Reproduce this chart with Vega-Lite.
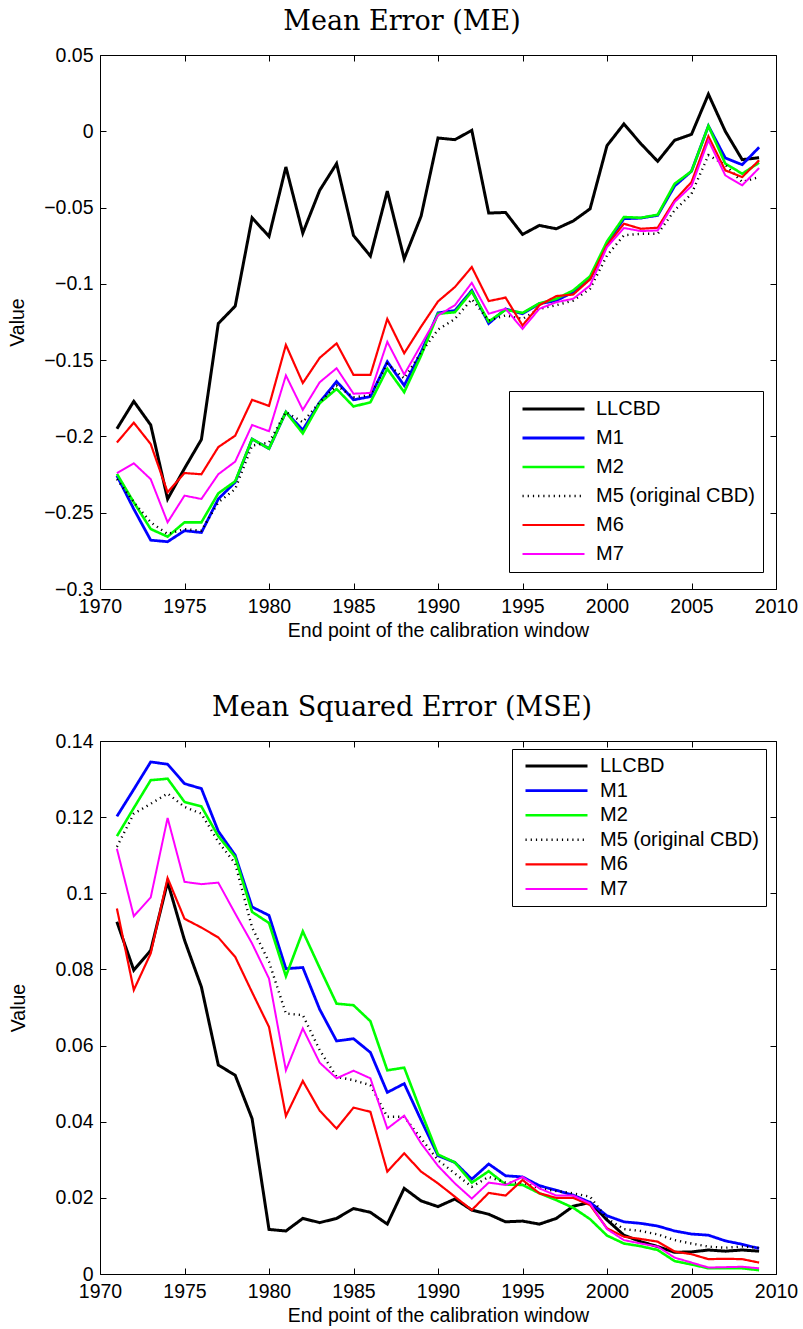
{
  "$schema": "https://vega.github.io/schema/vega-lite/v6.json",
  "background": "white",
  "padding": {"left": 7, "top": 7, "right": 0, "bottom": 0},
  "bounds": "flush",
  "spacing": 152,
  "config": {
    "view": {"stroke": "black", "strokeWidth": 1},
    "axis": {
      "domain": false, "offset": -6, "tickColor": "black", "tickWidth": 1, "tickSize": 6,
      "labelColor": "black", "titleColor": "black", "labelFont": "Liberation Sans", "titleFont": "Liberation Sans",
      "labelFontSize": 19.5, "titleFontSize": 19.5, "titleFontWeight": "normal", "grid": false,
      "labelFlush": false, "labelOverlap": false
    },
    "axisX": {"labelPadding": 8},
    "axisY": {"labelPadding": 7},
    "title": {"font": "DejaVu Serif", "fontSize": 27, "fontWeight": "normal", "color": "black", "frame": "group", "anchor": "middle", "baseline": "alphabetic", "offset": 9, "dx": -36},
    "legend": {"title": null, "orient": "none", "labelFont": "Liberation Sans", "labelFontSize": 20, "labelColor": "black", "labelLimit": 400, "symbolType": "stroke", "symbolSize": 3844, "clipHeight": 20, "strokeColor": "black", "fillColor": "white", "symbolOpacity": 1}
  },
  "datasets": {
    "me": [
      {"year":1971,"LLCBD":-0.195,"M1":-0.2257,"M2":-0.2245,"M5 (original CBD)":-0.228,"M6":-0.204,"M7":-0.224},
      {"year":1972,"LLCBD":-0.177,"M1":-0.2476,"M2":-0.2432,"M5 (original CBD)":-0.243,"M6":-0.191,"M7":-0.2176},
      {"year":1973,"LLCBD":-0.1925,"M1":-0.268,"M2":-0.2607,"M5 (original CBD)":-0.2563,"M6":-0.205,"M7":-0.228},
      {"year":1974,"LLCBD":-0.241,"M1":-0.269,"M2":-0.2657,"M5 (original CBD)":-0.264,"M6":-0.2366,"M7":-0.2563},
      {"year":1975,"LLCBD":-0.221,"M1":-0.2618,"M2":-0.2563,"M5 (original CBD)":-0.2607,"M6":-0.224,"M7":-0.2388},
      {"year":1976,"LLCBD":-0.202,"M1":-0.263,"M2":-0.2563,"M5 (original CBD)":-0.2618,"M6":-0.2248,"M7":-0.241},
      {"year":1977,"LLCBD":-0.126,"M1":-0.241,"M2":-0.2373,"M5 (original CBD)":-0.2432,"M6":-0.207,"M7":-0.2248},
      {"year":1978,"LLCBD":-0.1146,"M1":-0.23,"M2":-0.2294,"M5 (original CBD)":-0.2345,"M6":-0.1995,"M7":-0.2165},
      {"year":1979,"LLCBD":-0.0567,"M1":-0.2017,"M2":-0.2017,"M5 (original CBD)":-0.206,"M6":-0.176,"M7":-0.1925},
      {"year":1980,"LLCBD":-0.0689,"M1":-0.208,"M2":-0.208,"M5 (original CBD)":-0.204,"M6":-0.18,"M7":-0.1966},
      {"year":1981,"LLCBD":-0.0234,"M1":-0.184,"M2":-0.184,"M5 (original CBD)":-0.184,"M6":-0.14,"M7":-0.16},
      {"year":1982,"LLCBD":-0.0667,"M1":-0.1958,"M2":-0.198,"M5 (original CBD)":-0.1907,"M6":-0.165,"M7":-0.1826},
      {"year":1983,"LLCBD":-0.0387,"M1":-0.1776,"M2":-0.1782,"M5 (original CBD)":-0.1776,"M6":-0.1485,"M7":-0.1645},
      {"year":1984,"LLCBD":-0.0212,"M1":-0.164,"M2":-0.1689,"M5 (original CBD)":-0.1666,"M6":-0.139,"M7":-0.1553},
      {"year":1985,"LLCBD":-0.0683,"M1":-0.176,"M2":-0.1804,"M5 (original CBD)":-0.1743,"M6":-0.1597,"M7":-0.172},
      {"year":1986,"LLCBD":-0.0818,"M1":-0.1739,"M2":-0.1776,"M5 (original CBD)":-0.173,"M6":-0.1597,"M7":-0.1715},
      {"year":1987,"LLCBD":-0.0392,"M1":-0.151,"M2":-0.1557,"M5 (original CBD)":-0.1524,"M6":-0.123,"M7":-0.138},
      {"year":1988,"LLCBD":-0.0836,"M1":-0.1666,"M2":-0.171,"M5 (original CBD)":-0.162,"M6":-0.1455,"M7":-0.1594},
      {"year":1989,"LLCBD":-0.0556,"M1":-0.1448,"M2":-0.147,"M5 (original CBD)":-0.145,"M6":-0.128,"M7":-0.14},
      {"year":1990,"LLCBD":-0.0044,"M1":-0.119,"M2":-0.1196,"M5 (original CBD)":-0.13,"M6":-0.1115,"M7":-0.1207},
      {"year":1991,"LLCBD":-0.0055,"M1":-0.1175,"M2":-0.1186,"M5 (original CBD)":-0.123,"M6":-0.1021,"M7":-0.114},
      {"year":1992,"LLCBD":0.0006,"M1":-0.1043,"M2":-0.105,"M5 (original CBD)":-0.11,"M6":-0.089,"M7":-0.0993},
      {"year":1993,"LLCBD":-0.0536,"M1":-0.126,"M2":-0.1247,"M5 (original CBD)":-0.124,"M6":-0.1113,"M7":-0.1196},
      {"year":1994,"LLCBD":-0.0532,"M1":-0.1164,"M2":-0.117,"M5 (original CBD)":-0.1207,"M6":-0.109,"M7":-0.1163},
      {"year":1995,"LLCBD":-0.0676,"M1":-0.1196,"M2":-0.119,"M5 (original CBD)":-0.123,"M6":-0.1273,"M7":-0.1295},
      {"year":1996,"LLCBD":-0.0617,"M1":-0.113,"M2":-0.1127,"M5 (original CBD)":-0.1164,"M6":-0.114,"M7":-0.1163},
      {"year":1997,"LLCBD":-0.0639,"M1":-0.111,"M2":-0.1098,"M5 (original CBD)":-0.114,"M6":-0.108,"M7":-0.112},
      {"year":1998,"LLCBD":-0.0588,"M1":-0.1054,"M2":-0.1043,"M5 (original CBD)":-0.111,"M6":-0.107,"M7":-0.1098},
      {"year":1999,"LLCBD":-0.0508,"M1":-0.0967,"M2":-0.095,"M5 (original CBD)":-0.1032,"M6":-0.097,"M7":-0.101},
      {"year":2000,"LLCBD":-0.0094,"M1":-0.0737,"M2":-0.0722,"M5 (original CBD)":-0.0814,"M6":-0.0748,"M7":-0.0759},
      {"year":2001,"LLCBD":0.0048,"M1":-0.0573,"M2":-0.0562,"M5 (original CBD)":-0.0682,"M6":-0.0606,"M7":-0.0634},
      {"year":2002,"LLCBD":-0.0081,"M1":-0.0569,"M2":-0.0567,"M5 (original CBD)":-0.0672,"M6":-0.0639,"M7":-0.0654},
      {"year":2003,"LLCBD":-0.0197,"M1":-0.0551,"M2":-0.0547,"M5 (original CBD)":-0.0672,"M6":-0.0632,"M7":-0.065},
      {"year":2004,"LLCBD":-0.0059,"M1":-0.0359,"M2":-0.0344,"M5 (original CBD)":-0.0518,"M6":-0.0453,"M7":-0.0464},
      {"year":2005,"LLCBD":-0.002,"M1":-0.0262,"M2":-0.0262,"M5 (original CBD)":-0.041,"M6":-0.0333,"M7":-0.0359},
      {"year":2006,"LLCBD":0.0243,"M1":0.0035,"M2":0.0035,"M5 (original CBD)":-0.0157,"M6":-0.0033,"M7":-0.0059},
      {"year":2007,"LLCBD":0.0,"M1":-0.0175,"M2":-0.0212,"M5 (original CBD)":-0.022,"M6":-0.0256,"M7":-0.0289},
      {"year":2008,"LLCBD":-0.0186,"M1":-0.0219,"M2":-0.0278,"M5 (original CBD)":-0.0333,"M6":-0.03,"M7":-0.0354},
      {"year":2009,"LLCBD":-0.0173,"M1":-0.0105,"M2":-0.0206,"M5 (original CBD)":-0.03,"M6":-0.019,"M7":-0.0241}
    ],
    "mse": [
      {"year":1971,"LLCBD":0.0925,"M1":0.1202,"M2":0.115,"M5 (original CBD)":0.1122,"M6":0.096,"M7":0.1117},
      {"year":1972,"LLCBD":0.0798,"M1":0.1273,"M2":0.1224,"M5 (original CBD)":0.1209,"M6":0.0746,"M7":0.094},
      {"year":1973,"LLCBD":0.085,"M1":0.1345,"M2":0.1297,"M5 (original CBD)":0.1235,"M6":0.0842,"M7":0.0989},
      {"year":1974,"LLCBD":0.103,"M1":0.1339,"M2":0.1301,"M5 (original CBD)":0.1262,"M6":0.104,"M7":0.1198},
      {"year":1975,"LLCBD":0.0877,"M1":0.1288,"M2":0.124,"M5 (original CBD)":0.1227,"M6":0.0933,"M7":0.103},
      {"year":1976,"LLCBD":0.0754,"M1":0.1275,"M2":0.1228,"M5 (original CBD)":0.1209,"M6":0.091,"M7":0.1024},
      {"year":1977,"LLCBD":0.0549,"M1":0.1163,"M2":0.115,"M5 (original CBD)":0.1135,"M6":0.0884,"M7":0.1028},
      {"year":1978,"LLCBD":0.0522,"M1":0.11,"M2":0.1095,"M5 (original CBD)":0.1078,"M6":0.0833,"M7":0.0947},
      {"year":1979,"LLCBD":0.0408,"M1":0.0964,"M2":0.0951,"M5 (original CBD)":0.091,"M6":0.074,"M7":0.0868},
      {"year":1980,"LLCBD":0.0117,"M1":0.0942,"M2":0.0922,"M5 (original CBD)":0.082,"M6":0.0649,"M7":0.0776},
      {"year":1981,"LLCBD":0.0113,"M1":0.0802,"M2":0.0782,"M5 (original CBD)":0.0684,"M6":0.0415,"M7":0.0535},
      {"year":1982,"LLCBD":0.0146,"M1":0.0805,"M2":0.09,"M5 (original CBD)":0.068,"M6":0.0507,"M7":0.0645},
      {"year":1983,"LLCBD":0.0135,"M1":0.0695,"M2":0.0804,"M5 (original CBD)":0.0588,"M6":0.0429,"M7":0.0555},
      {"year":1984,"LLCBD":0.0146,"M1":0.0612,"M2":0.071,"M5 (original CBD)":0.0518,"M6":0.0382,"M7":0.0514},
      {"year":1985,"LLCBD":0.0172,"M1":0.0618,"M2":0.0706,"M5 (original CBD)":0.0509,"M6":0.0437,"M7":0.0534},
      {"year":1986,"LLCBD":0.0162,"M1":0.0582,"M2":0.0664,"M5 (original CBD)":0.0496,"M6":0.0426,"M7":0.0514},
      {"year":1987,"LLCBD":0.0131,"M1":0.0477,"M2":0.0535,"M5 (original CBD)":0.0413,"M6":0.0269,"M7":0.0382},
      {"year":1988,"LLCBD":0.0225,"M1":0.05,"M2":0.0542,"M5 (original CBD)":0.0413,"M6":0.0317,"M7":0.0416},
      {"year":1989,"LLCBD":0.0192,"M1":0.0404,"M2":0.0426,"M5 (original CBD)":0.0356,"M6":0.0269,"M7":0.0343},
      {"year":1990,"LLCBD":0.0177,"M1":0.0311,"M2":0.0314,"M5 (original CBD)":0.0299,"M6":0.0238,"M7":0.0284},
      {"year":1991,"LLCBD":0.0197,"M1":0.0293,"M2":0.0293,"M5 (original CBD)":0.0264,"M6":0.0203,"M7":0.0238},
      {"year":1992,"LLCBD":0.0168,"M1":0.0249,"M2":0.024,"M5 (original CBD)":0.0229,"M6":0.0168,"M7":0.0198},
      {"year":1993,"LLCBD":0.0157,"M1":0.0289,"M2":0.027,"M5 (original CBD)":0.0255,"M6":0.0213,"M7":0.024},
      {"year":1994,"LLCBD":0.0137,"M1":0.0258,"M2":0.0235,"M5 (original CBD)":0.024,"M6":0.0206,"M7":0.0234},
      {"year":1995,"LLCBD":0.0139,"M1":0.0255,"M2":0.0234,"M5 (original CBD)":0.024,"M6":0.0247,"M7":0.0255},
      {"year":1996,"LLCBD":0.0131,"M1":0.0232,"M2":0.0212,"M5 (original CBD)":0.0225,"M6":0.0212,"M7":0.0225},
      {"year":1997,"LLCBD":0.0146,"M1":0.022,"M2":0.0194,"M5 (original CBD)":0.0218,"M6":0.02,"M7":0.0206},
      {"year":1998,"LLCBD":0.0178,"M1":0.0207,"M2":0.0174,"M5 (original CBD)":0.0212,"M6":0.02,"M7":0.0206},
      {"year":1999,"LLCBD":0.0188,"M1":0.0188,"M2":0.0144,"M5 (original CBD)":0.0203,"M6":0.0181,"M7":0.0185},
      {"year":2000,"LLCBD":0.0142,"M1":0.0153,"M2":0.0101,"M5 (original CBD)":0.0146,"M6":0.012,"M7":0.0118},
      {"year":2001,"LLCBD":0.0102,"M1":0.0137,"M2":0.008,"M5 (original CBD)":0.0118,"M6":0.0098,"M7":0.0089},
      {"year":2002,"LLCBD":0.0085,"M1":0.0133,"M2":0.0073,"M5 (original CBD)":0.0113,"M6":0.0092,"M7":0.008},
      {"year":2003,"LLCBD":0.0072,"M1":0.0126,"M2":0.0063,"M5 (original CBD)":0.0104,"M6":0.0085,"M7":0.0072},
      {"year":2004,"LLCBD":0.0057,"M1":0.0113,"M2":0.0034,"M5 (original CBD)":0.0089,"M6":0.0059,"M7":0.0043},
      {"year":2005,"LLCBD":0.0058,"M1":0.0105,"M2":0.0025,"M5 (original CBD)":0.008,"M6":0.0052,"M7":0.003},
      {"year":2006,"LLCBD":0.0063,"M1":0.0102,"M2":0.0015,"M5 (original CBD)":0.0072,"M6":0.0039,"M7":0.0017},
      {"year":2007,"LLCBD":0.006,"M1":0.0087,"M2":0.0015,"M5 (original CBD)":0.0069,"M6":0.004,"M7":0.0018},
      {"year":2008,"LLCBD":0.0063,"M1":0.0078,"M2":0.0015,"M5 (original CBD)":0.0072,"M6":0.0039,"M7":0.0019},
      {"year":2009,"LLCBD":0.006,"M1":0.0067,"M2":0.001,"M5 (original CBD)":0.0069,"M6":0.003,"M7":0.0015}
    ]
  },
  "vconcat": [
    {
      "title": {"text": "Mean Error (ME)"},
      "width": 676,
      "height": 534,
      "data": {"name": "me"},
      "transform": [{"fold": ["LLCBD", "M1", "M2", "M5 (original CBD)", "M6", "M7"], "as": ["model", "value"]}],
      "layer": [
        {
          "mark": {"type": "line"},
          "encoding": {
            "x": {"field": "year", "type": "quantitative", "scale": {"domain": [1970, 2010], "nice": false, "zero": false},
                  "axis": {"values": [1970, 1975, 1980, 1985, 1990, 1995, 2000, 2005, 2010], "format": "d", "title": "End point of the calibration window", "titlePadding": 6}},
            "y": {"field": "value", "type": "quantitative", "scale": {"domain": [-0.3, 0.05], "nice": false, "zero": false},
                  "axis": {"values": [-0.3, -0.25, -0.2, -0.15, -0.1, -0.05, 0, 0.05], "format": ".2~f", "title": "Value", "titlePadding": 16}},
            "color": {"field": "model", "type": "nominal",
                      "scale": {"domain": ["LLCBD", "M1", "M2", "M5 (original CBD)", "M6", "M7"], "range": ["#000000", "#0000ff", "#00ff00", "#000000", "#ff0000", "#ff00ff"]},
                      "legend": {"legendX": 409, "legendY": 336, "padding": 8, "rowPadding": 9, "symbolOffset": 4, "labelOffset": 10}},
            "strokeDash": {"field": "model", "type": "nominal",
                      "scale": {"domain": ["LLCBD", "M1", "M2", "M5 (original CBD)", "M6", "M7"], "range": [[1, 0], [1, 0], [1, 0], [1.2, 4], [1, 0], [1, 0]]},
                      "legend": {"legendX": 409, "legendY": 336, "padding": 8, "rowPadding": 9, "symbolOffset": 4, "labelOffset": 10}},
            "strokeWidth": {"field": "model", "type": "nominal",
                      "scale": {"domain": ["LLCBD", "M1", "M2", "M5 (original CBD)", "M6", "M7"], "range": [3, 2, 2, 1.2, 2, 2]},
                      "legend": {"legendX": 409, "legendY": 336, "padding": 8, "rowPadding": 9, "symbolOffset": 4, "labelOffset": 10}}
          }
        },
        {
          "mark": {"type": "point", "opacity": 0},
          "encoding": {
            "x": {"field": "year", "type": "quantitative", "scale": {"domain": [1970, 2010], "nice": false, "zero": false},
                  "axis": {"orient": "top", "values": [1970, 1975, 1980, 1985, 1990, 1995, 2000, 2005, 2010], "labels": false, "title": null}},
            "y": {"field": "value", "type": "quantitative", "scale": {"domain": [-0.3, 0.05], "nice": false, "zero": false},
                  "axis": {"orient": "right", "values": [-0.3, -0.25, -0.2, -0.15, -0.1, -0.05, 0, 0.05], "labels": false, "title": null}}
          }
        }
      ],
      "resolve": {"axis": {"x": "independent", "y": "independent"}}
    },
    {
      "title": {"text": "Mean Squared Error (MSE)"},
      "width": 676,
      "height": 533,
      "data": {"name": "mse"},
      "transform": [{"fold": ["LLCBD", "M1", "M2", "M5 (original CBD)", "M6", "M7"], "as": ["model", "value"]}],
      "layer": [
        {
          "mark": {"type": "line"},
          "encoding": {
            "x": {"field": "year", "type": "quantitative", "scale": {"domain": [1970, 2010], "nice": false, "zero": false},
                  "axis": {"values": [1970, 1975, 1980, 1985, 1990, 1995, 2000, 2005, 2010], "format": "d", "title": "End point of the calibration window", "titlePadding": 6}},
            "y": {"field": "value", "type": "quantitative", "scale": {"domain": [0, 0.14], "nice": false, "zero": false},
                  "axis": {"values": [0, 0.02, 0.04, 0.06, 0.08, 0.1, 0.12, 0.14], "format": ".2~f", "title": "Value", "titlePadding": 27}},
            "color": {"field": "model", "type": "nominal",
                      "scale": {"domain": ["LLCBD", "M1", "M2", "M5 (original CBD)", "M6", "M7"], "range": ["#000000", "#0000ff", "#00ff00", "#000000", "#ff0000", "#ff00ff"]},
                      "legend": {"legendX": 412, "legendY": 8, "padding": 7, "rowPadding": 4.6, "symbolOffset": 5, "labelOffset": 11}},
            "strokeDash": {"field": "model", "type": "nominal",
                      "scale": {"domain": ["LLCBD", "M1", "M2", "M5 (original CBD)", "M6", "M7"], "range": [[1, 0], [1, 0], [1, 0], [1.2, 4], [1, 0], [1, 0]]},
                      "legend": {"legendX": 412, "legendY": 8, "padding": 7, "rowPadding": 4.6, "symbolOffset": 5, "labelOffset": 11}},
            "strokeWidth": {"field": "model", "type": "nominal",
                      "scale": {"domain": ["LLCBD", "M1", "M2", "M5 (original CBD)", "M6", "M7"], "range": [3, 2, 2, 1.2, 2, 2]},
                      "legend": {"legendX": 412, "legendY": 8, "padding": 7, "rowPadding": 4.6, "symbolOffset": 5, "labelOffset": 11}}
          }
        },
        {
          "mark": {"type": "point", "opacity": 0},
          "encoding": {
            "x": {"field": "year", "type": "quantitative", "scale": {"domain": [1970, 2010], "nice": false, "zero": false},
                  "axis": {"orient": "top", "values": [1970, 1975, 1980, 1985, 1990, 1995, 2000, 2005, 2010], "labels": false, "title": null}},
            "y": {"field": "value", "type": "quantitative", "scale": {"domain": [0, 0.14], "nice": false, "zero": false},
                  "axis": {"orient": "right", "values": [0, 0.02, 0.04, 0.06, 0.08, 0.1, 0.12, 0.14], "labels": false, "title": null}}
          }
        }
      ],
      "resolve": {"axis": {"x": "independent", "y": "independent"}}
    }
  ],
  "resolve": {"scale": {"color": "independent", "strokeDash": "independent", "strokeWidth": "independent"}, "legend": {"color": "independent", "strokeDash": "independent", "strokeWidth": "independent"}}
}
